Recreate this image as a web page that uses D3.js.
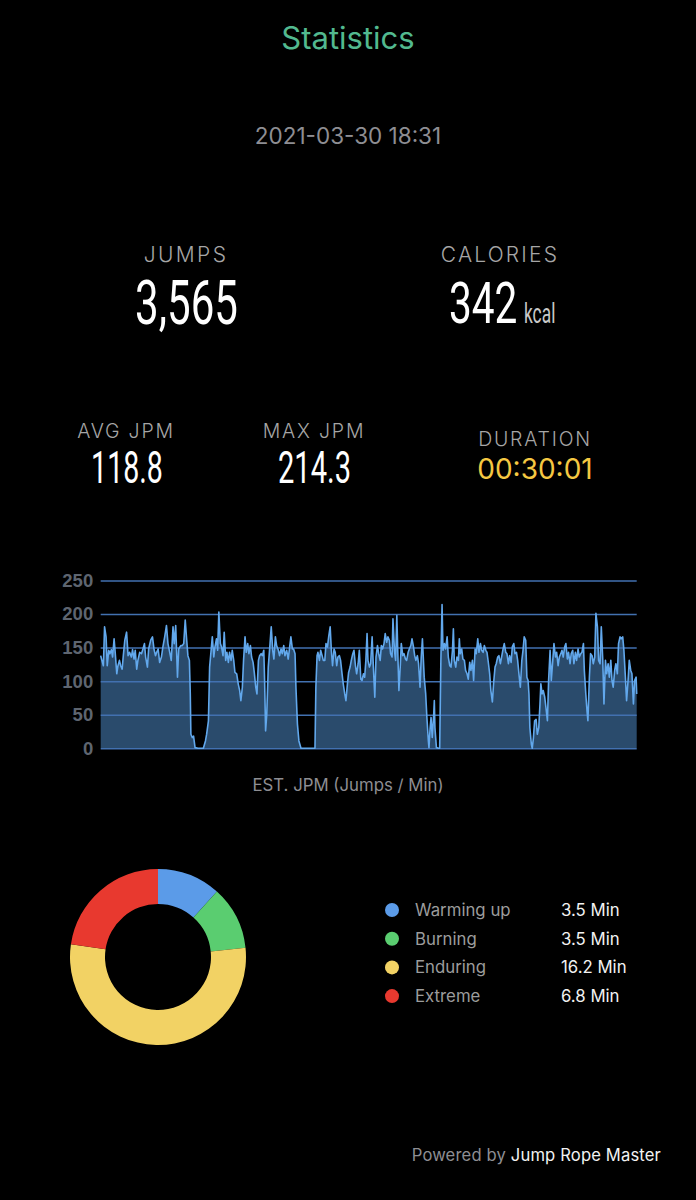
<!DOCTYPE html>
<html>
<head>
<meta charset="utf-8">
<script src="https://cdn.jsdelivr.net/npm/d3@7"></script>
<style>
  html, body { margin: 0; padding: 0; background: #000; }
  svg { display: block; }
</style>
</head>
<body>
<div id="chart"></div>
<script>
// ---------- data ----------
const title = "Statistics";
const dateText = "2021-03-30 18:31";
const statLabels = ["JUMPS", "CALORIES", "AVG JPM", "MAX JPM", "DURATION"];
const statValues = ["3,565", "342", "118.8", "214.3", "00:30:01"];
const calorieUnit = "kcal";
const chartCaption = "EST. JPM (Jumps / Min)";
const yTicks = [0, 50, 100, 150, 200, 250];
const totalSeconds = 1801;

// elapsed seconds of each reading and the estimated jumps per minute
const seconds = [0,4,9,13,18,22,27,31,36,40,45,49,54,58,63,67,72,76,81,87,92,97,103,107,112,116,121,125,131,137,142,147,151,157,161,168,174,179,184,188,193,198,204,209,215,221,226,232,237,243,247,252,258,262,269,274,279,284,289,293,298,301,303,308,312,317,327,338,345,352,
356,362,366,371,375,380,384,389,393,397,402,406,411,415,420,424,429,433,438,442,447,451,457,462,467,471,476,480,485,489,494,498,503,507,512,516,521,525,530,534,539,543,548,551,554,558,563,569,573,578,582,587,591,597,601,606,610,615,619,625,630,635,639,644,648,653,656,661,666,673,686,698,709,
720,723,727,730,735,739,744,748,753,757,762,766,771,775,779,784,788,793,797,802,806,811,815,820,824,829,833,838,842,847,851,856,860,865,869,874,878,883,887,891,895,898,903,907,912,916,921,925,930,934,939,943,947,952,956,961,965,970,974,979,982,987,991,995,999,1002,1007,1010,1015,1019,1024,1028,1033,1037,1042,1046,1051,1055,1059,1064,1068,1073,1077,
1081,1087,1092,1096,1101,1103,1107,1110,1114,1119,1121,1123,1128,1135,1139,1143,1147,1150,1155,1159,1164,1168,1173,1177,1182,1185,1188,1193,1197,1202,1205,1208,1213,1217,1222,1226,1231,1235,1240,1244,1249,1253,1258,1262,1267,1271,1276,1280,1285,1289,1294,1298,1303,1307,1311,1316,1320,1325,1329,1334,1338,1343,1347,1352,1356,1361,1365,1370,1374,1379,1383,1388,1392,1397,1401,1406,1410,1415,1419,1423,1428,
1432,1436,1439,1442,1447,1450,1454,1458,1463,1467,1472,1476,1479,1483,1487,1492,1496,1501,1505,1510,1514,1519,1523,1528,1532,1537,1541,1546,1550,1554,1559,1563,1568,1572,1577,1581,1586,1590,1595,1599,1604,1608,1613,1617,1622,1625,1630,1634,1637,1642,1646,1651,1655,1660,1664,1669,1673,1678,1682,1687,1691,1696,1700,1705,1709,1714,1718,1722,1727,1731,1736,1740,1745,1749,1754,1758,1763,1767,1772,1776,1781,1785,1790,1794,1799,1801];

const jpm = [138,131,123,181,166,123,146,141,147,136,163,141,111,123,131,123,118,138,161,173,138,143,136,147,133,146,118,131,143,141,148,156,136,121,148,161,166,148,138,143,148,128,136,151,166,183,156,143,131,181,156,183,106,148,153,153,156,191,161,138,131,81,21,16,18,1,0,0,0,11,
21,41,121,146,166,136,151,163,146,203,156,151,138,173,131,143,128,143,131,146,131,113,111,96,86,71,91,131,166,143,156,141,153,136,128,113,91,81,131,138,141,138,146,96,26,51,121,156,181,146,133,166,153,146,138,148,141,153,138,146,133,151,166,148,148,141,91,36,11,0,0,0,0,
0,91,138,143,131,146,138,131,131,156,151,166,181,146,123,148,143,123,136,138,131,111,96,81,71,96,113,121,131,141,146,123,111,126,146,103,101,111,106,131,171,131,121,126,166,123,76,136,153,141,131,153,148,156,171,158,166,161,141,136,193,146,131,198,131,86,126,156,138,141,133,131,143,148,153,163,151,138,131,138,126,91,136,
163,106,81,46,11,1,31,46,16,51,71,31,1,0,0,131,214.3,146,156,148,166,136,123,121,146,178,131,121,136,131,163,141,148,133,131,116,111,103,128,116,131,101,148,141,163,143,156,146,143,153,146,143,126,111,86,69,96,121,126,136,138,126,136,148,156,143,141,126,138,128,151,156,141,143,131,108,91,131,146,166,161,
106,101,81,31,6,0,16,41,43,21,31,66,96,81,86,76,61,41,101,146,101,131,156,136,143,123,136,141,146,136,151,156,133,143,126,141,146,126,143,131,148,136,141,143,156,116,81,56,41,106,141,138,126,136,201,181,131,126,181,131,66,131,111,126,106,131,101,91,116,126,111,156,166,163,166,146,106,71,101,131,116,111,66,101,106,81];

const zoneNames = ["Warming up", "Burning", "Enduring", "Extreme"];
const zoneMinutes = [3.5, 3.5, 16.2, 6.8];
const zoneColors = ["#5b9be8", "#5acd70", "#f2d264", "#e8392f"];

const footerPrefix = "Powered by ";
const footerBrand = "Jump Rope Master";

// ---------- drawing ----------
const W = 696, H = 1200;
const svg = d3.select("#chart").append("svg")
  .attr("width", W).attr("height", H)
  .style("background", "#000");

const sans = "Inter, 'Open Sans', 'Liberation Sans', Arial, sans-serif";
const narrow = "Roboto, 'Liberation Sans', Arial, sans-serif";

// header
svg.append("text").attr("x", 348).attr("y", 49)
  .attr("text-anchor", "middle").attr("font-family", sans)
  .attr("font-size", 31).attr("fill", "#52b98f").text(title);
svg.append("text").attr("x", 348).attr("y", 144)
  .attr("text-anchor", "middle").attr("font-family", sans)
  .attr("font-size", 22.5).attr("fill", "#8e8e93").text(dateText);

// stats
function label(x, y, txt, size, spacing) {
  svg.append("text").attr("x", x).attr("y", y)
    .attr("text-anchor", "middle").attr("font-family", sans)
    .attr("font-weight", 300).attr("font-size", size)
    .attr("letter-spacing", spacing).attr("fill", "#a6a6a6").text(txt);
}
// condensed numerals: a regular face squeezed horizontally
function bigNum(x, y, txt, size, sx, anchor, fill) {
  svg.append("text")
    .attr("transform", `translate(${x},${y}) scale(${sx},1)`)
    .attr("text-anchor", anchor || "middle").attr("font-family", narrow)
    .attr("font-size", size).attr("fill", fill || "#ffffff")
    .text(txt);
}
label(186, 262, statLabels[0], 21, 2.4);
label(500, 262, statLabels[1], 21, 2.2);
bigNum(186.5, 324, statValues[0], 61, 0.69);
bigNum(449, 323, statValues[1], 58, 0.70, "start");
bigNum(524, 323, calorieUnit, 28, 0.62, "start", "#c9c9c9");

label(126, 438, statLabels[2], 19.5, 1.8);
label(314, 438, statLabels[3], 19.5, 1.8);
label(535, 446, statLabels[4], 19.5, 1.8);
bigNum(127, 483, statValues[2], 44, 0.65);
bigNum(314.5, 483, statValues[3], 44, 0.66);
svg.append("text").attr("x", 535).attr("y", 479)
  .attr("text-anchor", "middle").attr("font-family", sans)
  .attr("font-size", 28).attr("fill", "#f5c842")
  .text(statValues[4]);

// line chart
const x = d3.scaleLinear().domain([0, totalSeconds]).range([100.7, 636.7]);
const y = d3.scaleLinear().domain([0, 250]).range([748.3, 580.5]);
const pts = seconds.map((s, i) => [s, jpm[i]]);

const g = svg.append("g");
g.append("path").datum(pts)
  .attr("d", d3.area().x(d => x(d[0])).y0(y(0)).y1(d => y(d[1])))
  .attr("fill", "#2a4b6c");

const yAxis = d3.axisLeft(y).tickValues(yTicks)
  .tickSize(-(x.range()[1] - x.range()[0])).tickPadding(8).tickFormat(d3.format("d"));
const ax = g.append("g").attr("transform", `translate(${x.range()[0]},0)`).call(yAxis);
ax.select(".domain").remove();
ax.selectAll(".tick line").attr("stroke", "#4271b0").attr("stroke-width", 1.5);
ax.selectAll(".tick text").attr("fill", "#5e6570").attr("font-family", "'Liberation Sans', Arial, sans-serif")
  .attr("font-weight", 700).attr("font-size", 18.5).attr("x", -7.5);

g.append("path").datum(pts)
  .attr("d", d3.line().x(d => x(d[0])).y(d => y(d[1])))
  .attr("fill", "none").attr("stroke", "#62a8ec").attr("stroke-width", 1.6)
  .attr("stroke-linejoin", "round");

svg.append("text").attr("x", 348).attr("y", 791)
  .attr("text-anchor", "middle").attr("font-family", sans)
  .attr("font-size", 16.8).attr("fill", "#8e8e93").text(chartCaption);

// donut
const pie = d3.pie().sort(null).value(d => d)(zoneMinutes);
const arc = d3.arc().innerRadius(53).outerRadius(88);
const dg = svg.append("g").attr("transform", "translate(158,957)");
dg.selectAll("path").data(pie).join("path")
  .attr("d", arc).attr("fill", (d, i) => zoneColors[i]);

// legend
const lg = svg.append("g");
zoneNames.forEach((n, i) => {
  const yy = 910 + i * 28.7;
  lg.append("circle").attr("cx", 392).attr("cy", yy).attr("r", 7).attr("fill", zoneColors[i]);
  lg.append("text").attr("x", 415).attr("y", yy + 6).attr("font-family", sans)
    .attr("font-size", 16.8).attr("fill", "#9c9c9c").text(n);
  lg.append("text").attr("x", 561).attr("y", yy + 6).attr("font-family", sans)
    .attr("font-size", 16.8).attr("fill", "#f2f2f2").text(zoneMinutes[i] + " Min");
});

// footer
const ft = svg.append("text").attr("x", 661).attr("y", 1161)
  .attr("text-anchor", "end").attr("font-family", sans).attr("font-size", 16.6)
  .attr("letter-spacing", 0.15);
ft.append("tspan").attr("fill", "#8e8e93").text(footerPrefix);
ft.append("tspan").attr("fill", "#f2f2f2").text(footerBrand);
</script>
</body>
</html>
